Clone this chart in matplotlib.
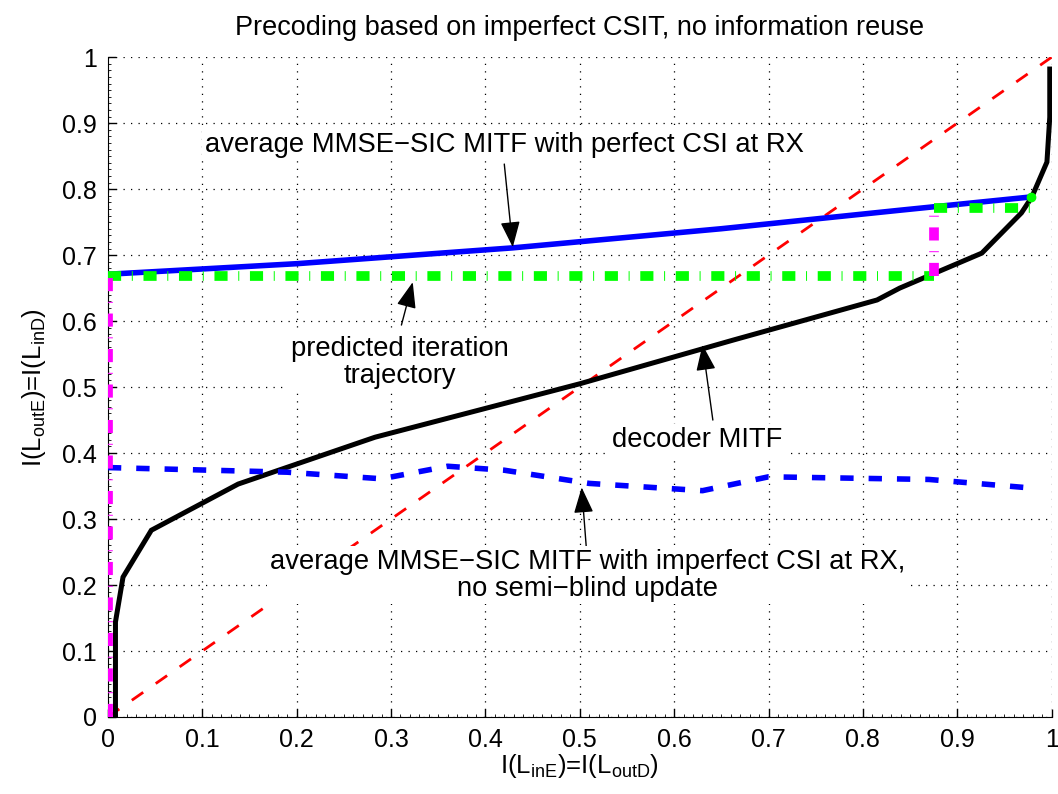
import numpy as np
import matplotlib
matplotlib.use("Agg")
import matplotlib.pyplot as plt

plt.rcParams['font.family'] = ['Liberation Sans', 'DejaVu Sans']
plt.rcParams['mathtext.fontset'] = 'custom'
plt.rcParams['mathtext.rm'] = 'Liberation Sans'

# decoder MITF (black)
dec_x = [0.008, 0.008, 0.016, 0.046, 0.138, 0.283, 0.50, 0.662, 0.815, 0.839, 0.926, 0.968, 0.979, 0.995, 0.998, 0.998]
dec_y = [0.0, 0.144, 0.212, 0.283, 0.353, 0.424, 0.505, 0.571, 0.632, 0.650, 0.703, 0.764, 0.788, 0.841, 0.909, 0.982]

# average MMSE-SIC MITF, perfect CSI at RX (blue solid)
perf_x = [0.0, 0.2, 0.429, 0.65, 0.839, 0.977]
perf_y = [0.671, 0.687, 0.711, 0.740, 0.768, 0.788]

# average MMSE-SIC MITF, imperfect CSI at RX (blue dashed)
imp_x = [0.0, 0.19, 0.29, 0.36, 0.42, 0.51, 0.63, 0.70, 0.87, 0.97]
imp_y = [0.378, 0.371, 0.361, 0.380, 0.374, 0.354, 0.343, 0.364, 0.360, 0.348]

# predicted trajectory
traj_h = [([0.0, 0.875], [0.668, 0.668]), ([0.875, 0.977], [0.771, 0.771])]
traj_v = [([0.0, 0.0], [0.0, 0.668]), ([0.875, 0.875], [0.668, 0.771])]
traj_end = (0.978, 0.788)

fig = plt.figure(figsize=(10.58, 7.94), dpi=100)
ax = fig.add_axes([0.102, 0.097, 0.892, 0.831])

ax.plot([0, 1], [0, 1], color='red', lw=2, linestyle=(0, (5, 5.5)), zorder=2)
ax.plot(dec_x, dec_y, color='black', lw=3.6, zorder=3, solid_joinstyle='miter')
ax.plot(imp_x, imp_y, color='blue', lw=4, linestyle=(0, (2.4, 2.7)), zorder=3)
ax.plot(perf_x, perf_y, color='blue', lw=4, zorder=4)
dd = (0, (1.35, 1.1, 0.1, 1.1))
for xs, ys in traj_h:
    ax.plot(xs, ys, color='#00ff00', lw=7, linestyle=dd, zorder=5)
for xs, ys in traj_v:
    ax.plot(xs, ys, color='magenta', lw=7, linestyle=dd, zorder=5)
ax.plot([traj_end[0]], [traj_end[1]], 'o', color='#00ff00', ms=6, zorder=6)

ax.set_xlim(0, 1)
ax.set_ylim(0, 1)
ax.set_xticks(np.arange(0, 1.01, 0.1))
ax.set_yticks(np.arange(0, 1.01, 0.1))
ax.set_xticklabels(['0'] + [f'{v:.1f}' for v in np.arange(0.1, 0.95, 0.1)] + ['1'])
ax.set_yticklabels(['0'] + [f'{v:.1f}' for v in np.arange(0.1, 0.95, 0.1)] + ['1'])
ax.set_xticks(np.arange(0, 1.001, 0.01), minor=True)
ax.set_yticks(np.arange(0, 1.001, 0.01), minor=True)
ax.tick_params(which='major', direction='in', length=6, width=1, labelsize=18, pad=8)
ax.tick_params(which='minor', direction='in', length=2, width=0.6)
ax.spines['top'].set_visible(False)
ax.spines['right'].set_visible(False)
ax.grid(True, which='major', linestyle=(0, (1, 5)), color='black', lw=0.9)
ax.set_axisbelow(True)

ax.set_title('Precoding based on imperfect CSIT, no information reuse', fontsize=19.5, pad=16)
ax.set_xlabel(r'I(L$_{\mathregular{inE}}$)=I(L$_{\mathregular{outD}}$)', fontsize=18.5, labelpad=0)
ax.set_ylabel(r'I(L$_{\mathregular{outE}}$)=I(L$_{\mathregular{inD}}$)', fontsize=18.5, labelpad=10)

box = dict(facecolor='white', edgecolor='none', pad=2)
arrow = dict(arrowstyle='-|>,head_length=1.0,head_width=0.38', color='black', lw=1,
             mutation_scale=16, shrinkA=0, shrinkB=0)
fs = 19.7

ax.annotate('', xy=(0.429, 0.712), xytext=(0.42, 0.838), arrowprops=arrow, zorder=7)
ax.text(0.42, 0.867, 'average MMSE\u2212SIC MITF with perfect CSI at RX', fontsize=fs,
        ha='center', va='center', bbox=box, zorder=8)

ax.annotate('', xy=(0.323, 0.659), xytext=(0.311, 0.594), arrowprops=arrow, zorder=7)
ax.text(0.309, 0.538, 'predicted iteration\ntrajectory', fontsize=fs, ha='center', va='center',
        bbox=box, zorder=8, linespacing=1.05)

ax.annotate('', xy=(0.630, 0.564), xytext=(0.641, 0.45), arrowprops=arrow, zorder=7)
ax.text(0.624, 0.42, 'decoder MITF', fontsize=fs, ha='center', va='center', bbox=box, zorder=8)

ax.annotate('', xy=(0.502, 0.348), xytext=(0.507, 0.255), arrowprops=arrow, zorder=7)
ax.text(0.508, 0.215, 'average MMSE\u2212SIC MITF with imperfect CSI at RX,\nno semi\u2212blind update',
        fontsize=fs, ha='center', va='center', bbox=box, zorder=8, linespacing=1.05)

fig.savefig('out.png', dpi=100)
